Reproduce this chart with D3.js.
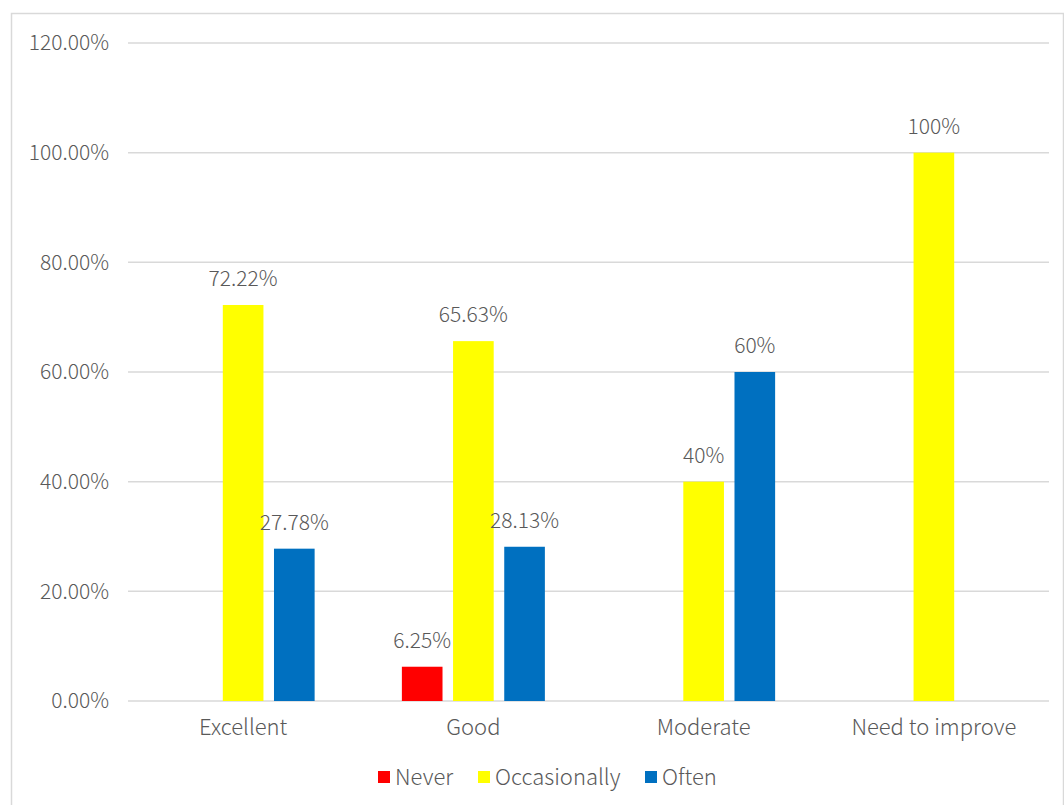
<!DOCTYPE html>
<html><head><meta charset="utf-8">
<script src="https://cdn.jsdelivr.net/npm/d3@7"></script>
<style>
body{margin:0;background:#fff;}
svg text{font-family:"Noto Sans CJK SC","Noto Sans",sans-serif;fill:#595959;font-weight:300;}
</style></head>
<body><svg id="c" width="1064" height="805"></svg>
<script>
const categories = ["Excellent","Good","Moderate","Need to improve"];
const seriesNames = ["Never","Occasionally","Often"];
const seriesColors = ["#FF0000","#FFFF00","#0070C0"];
const never = [null, 6.25, null, null];
const occasionally = [72.22, 65.63, 40, 100];
const often = [27.78, 28.13, 60, null];
const labelsNever = [null, "6.25%", null, null];
const labelsOccasionally = ["72.22%", "65.63%", "40%", "100%"];
const labelsOften = ["27.78%", "28.13%", "60%", null];
const yTicks = [0, 20, 40, 60, 80, 100, 120];

const svg = d3.select("#c");
const m = {left:128, right:1049, top:43, bottom:701};

svg.append("rect").attr("x",11.5).attr("y",13.5).attr("width",1052).attr("height",800)
  .attr("fill","none").attr("stroke","#d9d9d9").attr("stroke-width",1.5);

const x = d3.scaleBand().domain(categories).range([m.left, m.right]).padding(0);
const y = d3.scaleLinear().domain([0,120]).range([m.bottom, m.top]);
const groupW = 143;
const x1 = d3.scaleBand().domain(seriesNames)
  .range([(x.bandwidth()-groupW)/2, (x.bandwidth()+groupW)/2]).paddingInner(0.206).paddingOuter(0);

// gridlines
svg.append("g").selectAll("line").data(yTicks).join("line")
  .attr("x1", m.left).attr("x2", m.right)
  .attr("y1", d=>y(d)).attr("y2", d=>y(d))
  .attr("stroke","#d9d9d9").attr("stroke-width",1.5);

// y tick labels
svg.append("g").selectAll("text").data(yTicks).join("text")
  .attr("x", 109).attr("y", d=>y(d)).attr("dy","0.35em")
  .attr("text-anchor","end").attr("font-size",21)
  .text(d=>d.toFixed(2)+"%");

const series = [
  {name:"Never", values:never, labels:labelsNever, color:seriesColors[0]},
  {name:"Occasionally", values:occasionally, labels:labelsOccasionally, color:seriesColors[1]},
  {name:"Often", values:often, labels:labelsOften, color:seriesColors[2]}
];

const data = [];
series.forEach(s=>{
  categories.forEach((c,i)=>{
    if (s.values[i]!=null) data.push({cat:c, s:s.name, v:s.values[i], label:s.labels[i], color:s.color});
  });
});

svg.append("g").selectAll("rect").data(data).join("rect")
  .attr("x", d=>x(d.cat)+x1(d.s)).attr("width", x1.bandwidth())
  .attr("y", d=>y(d.v)).attr("height", d=>y(0)-y(d.v))
  .attr("fill", d=>d.color);

svg.append("g").selectAll("text").data(data).join("text")
  .attr("x", d=>x(d.cat)+x1(d.s)+x1.bandwidth()/2)
  .attr("y", d=>y(d.v)-19)
  .attr("text-anchor","middle").attr("font-size",21)
  .text(d=>d.label);

// category labels
svg.append("g").selectAll("text").data(categories).join("text")
  .attr("x", d=>x(d)+x.bandwidth()/2).attr("y", 735)
  .attr("text-anchor","middle").attr("font-size",22)
  .text(d=>d);

// legend
const legendX = [378, 478, 645];
const lg = svg.append("g");
series.forEach((s,i)=>{
  lg.append("rect").attr("x",legendX[i]).attr("y",771).attr("width",12).attr("height",12).attr("fill",s.color);
  lg.append("text").attr("x",legendX[i]+17).attr("y",785).attr("font-size",22).text(s.name);
});
</script></body></html>
